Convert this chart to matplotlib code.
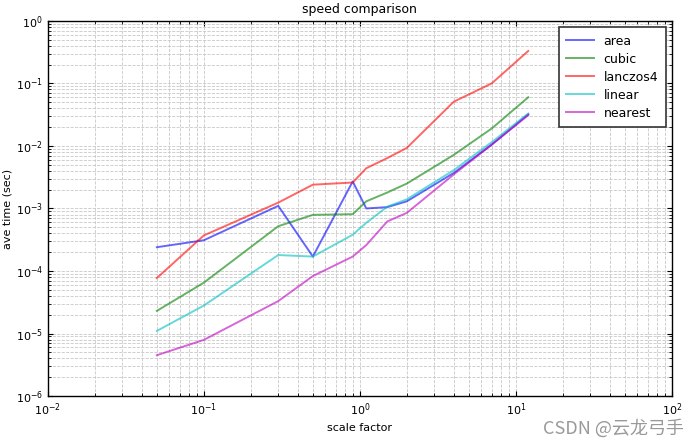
import matplotlib
matplotlib.use("Agg")
import matplotlib.pyplot as plt
import numpy as np

scale = [0.05, 0.1, 0.3, 0.5, 0.9, 1.1, 1.5, 2, 4, 7, 12]

area = [2.4e-4, 3.1e-4, 1.1e-3, 1.7e-4, 2.7e-3, 1.0e-3, 1.05e-3, 1.3e-3, 3.7e-3, 1.05e-2, 3.2e-2]
cubic = [2.3e-5, 6.5e-5, 5.2e-4, 7.9e-4, 8.1e-4, 1.3e-3, 1.8e-3, 2.5e-3, 7.2e-3, 1.9e-2, 6.0e-2]
lanczos4 = [7.7e-5, 3.7e-4, 1.24e-3, 2.4e-3, 2.6e-3, 4.4e-3, 6.4e-3, 9.3e-3, 5.1e-2, 1.0e-1, 3.3e-1]
linear = [1.1e-5, 2.8e-5, 1.8e-4, 1.7e-4, 3.8e-4, 5.9e-4, 1.07e-3, 1.4e-3, 4.1e-3, 1.15e-2, 3.3e-2]
nearest = [4.5e-6, 7.9e-6, 3.3e-5, 8.3e-5, 1.7e-4, 2.6e-4, 6.2e-4, 8.5e-4, 3.5e-3, 1.05e-2, 3.1e-2]

series = [("area", area, "b"), ("cubic", cubic, "g"), ("lanczos4", lanczos4, "r"),
          ("linear", linear, "c"), ("nearest", nearest, "m")]

fig = plt.figure(figsize=(6.92, 4.44), dpi=100)
ax = fig.add_axes([0.069, 0.108, 0.902, 0.845])

for name, vals, col in series:
    ax.plot(scale, vals, color=col, alpha=0.6, linewidth=1.4, label=name)

ax.set_xscale("log")
ax.set_yscale("log")
ax.set_xlim(1e-2, 1e2)
ax.set_ylim(1e-6, 1e0)
ax.grid(True, which="both", color="0.78", linestyle="--", linewidth=0.6)
ax.tick_params(which="both", direction="in", top=True, right=True, labelsize=8)
ax.set_xlabel("scale factor", fontsize=8)
ax.set_ylabel("ave time (sec)", fontsize=8, labelpad=2)
ax.set_title("speed comparison", fontsize=9)
for s in ax.spines.values():
    s.set_linewidth(1.0)

leg = ax.legend(loc="upper right", fontsize=9, fancybox=False, framealpha=1.0,
                handlelength=2.2, borderpad=0.6, labelspacing=0.4)
leg.get_frame().set_edgecolor("0.2")
leg.get_frame().set_linewidth(1.2)

fig.text(0.988, 0.036, "CSDN @云龙弓手", ha="right", va="center", fontsize=13,
         color="0.6", family=["Noto Sans CJK SC", "DejaVu Sans"])

fig.savefig("out.png", dpi=100)
